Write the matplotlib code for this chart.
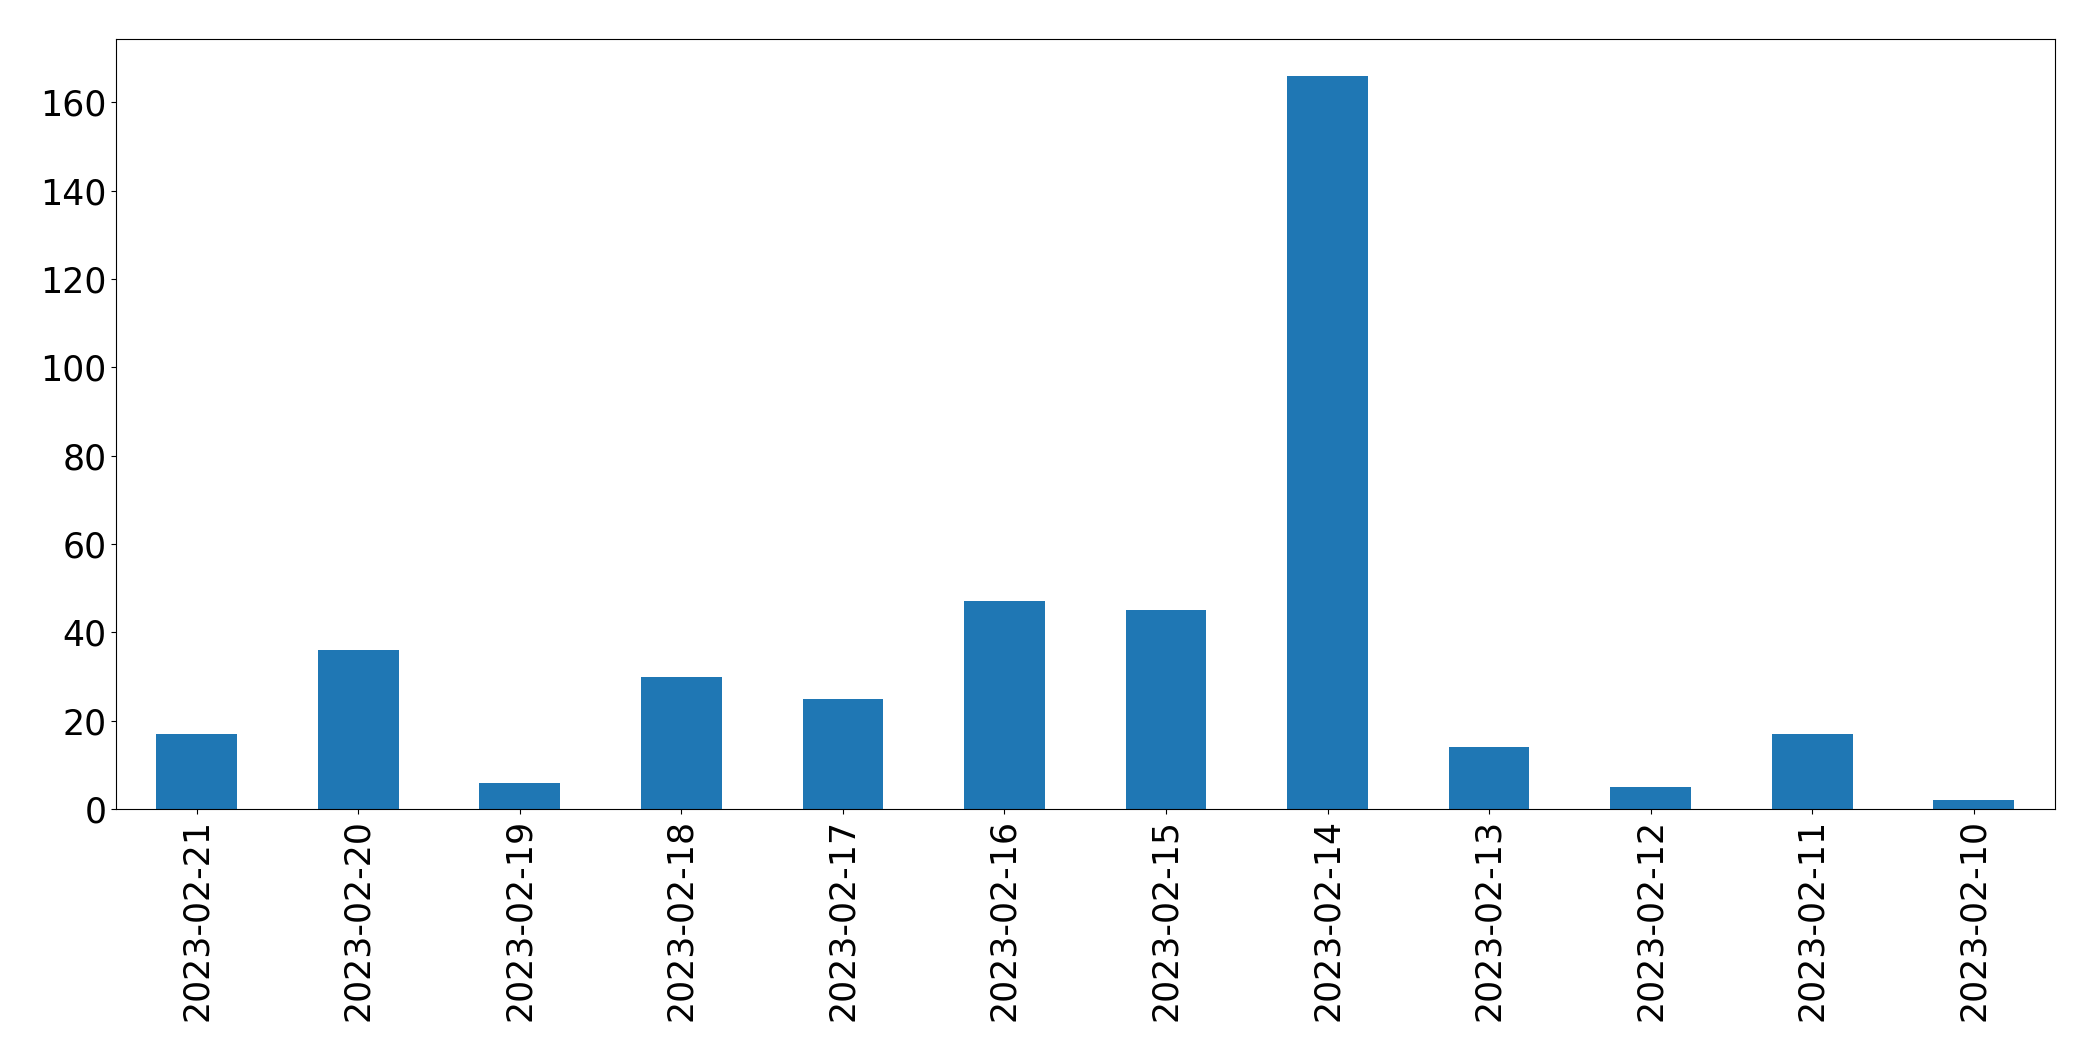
import matplotlib
matplotlib.use("Agg")
import matplotlib.pyplot as plt
import numpy as np

dates = ["2023-02-21", "2023-02-20", "2023-02-19", "2023-02-18", "2023-02-17", "2023-02-16",
         "2023-02-15", "2023-02-14", "2023-02-13", "2023-02-12", "2023-02-11", "2023-02-10"]
counts = [17, 36, 6, 30, 25, 47, 45, 166, 14, 5, 17, 2]

W, H = 2093, 1061
fig = plt.figure(figsize=(W / 100, H / 100), dpi=100)
ax = fig.add_axes([116 / W, 1 - 809 / H, (2054.5 - 116) / W, (809 - 39.3) / H])

x = np.arange(len(dates))
ax.bar(x, counts, width=0.5, color="#1f77b4")
ax.set_xlim(-0.5, len(dates) - 0.5)
ax.set_ylim(0, max(counts) * 1.05)
ax.set_xticks(x)
ax.set_xticklabels(dates, rotation=90)
ax.tick_params(axis="both", labelsize=25)

fig.savefig("out.png", dpi=100)
